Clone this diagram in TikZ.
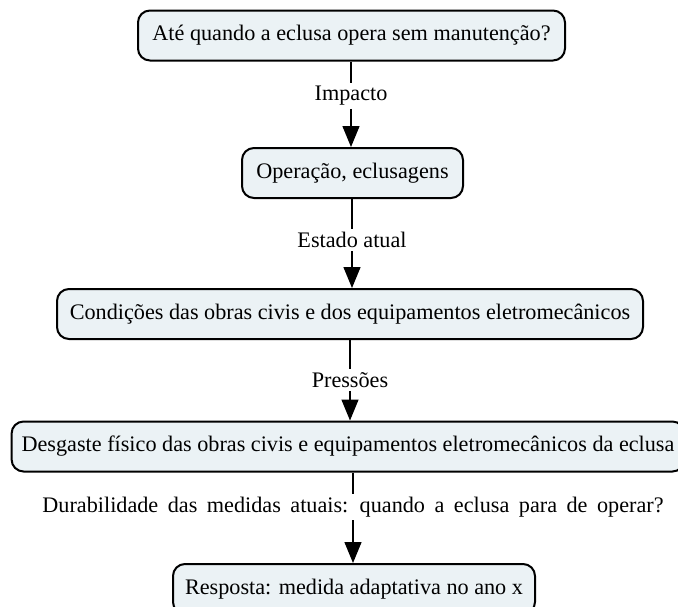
\documentclass[tikz,border=0pt]{standalone}
\usepackage{fontspec}
\setmainfont{Liberation Serif}
\usetikzlibrary{arrows.meta}
\definecolor{boxfill}{HTML}{EBF2F5}

\begin{document}
\begin{tikzpicture}[x=1pt,y=-1pt]

       \tikzstyle{arrow} = [line width=1.4pt,-{Triangle[width=17pt,length=21pt]}]
       \tikzset{box/.style = {rectangle, draw, line width=2pt, rounded corners=12pt, fill=boxfill, text centered, minimum height=50pt, inner xsep=10pt, font=\fontsize{22.2}{26}\selectfont}, }
       \tikzset{lbl/.style = {inner sep=3pt, font=\fontsize{22.2}{26}\selectfont}, }
       \tikzset{link/.style = {line width=1.4pt}, }
       \useasboundingbox (0,0) rectangle (678,606);
       \clip (0,0) rectangle (678,606);

       \node[box, minimum width=427pt] (Q) at (351.5,35.5) {Até quando a eclusa opera sem manutenção?};
       \node[box, minimum width=221pt] (Op) at (352.5,173) {Operação, eclusagens};
       \node[box, minimum width=586pt] (Cond) at (350,314) {Condições das obras civis e dos equipamentos eletromecânicos};
       \node[box, minimum width=672pt] (Desg) at (348,446.5) {Desgaste físico das obras civis e equipamentos eletromecânicos da eclusa};
       \node[box, minimum width=362pt] (Resp) at (354,589) {Resposta: medida adaptativa no ano x};

       \node[lbl] (Imp) at (351,96) {Impacto};
       \node[lbl] (Est) at (352,240) {Estado atual};
       \node[lbl] (Pre) at (350,380) {Pressões};
       \node[lbl] (Dur) at (353,507) {\spaceskip=9.5pt plus 1pt Durabilidade das medidas atuais: quando a eclusa para de operar?};

       \draw[link] (Imp |- Q.south) -- (Imp);
       \draw[arrow] (Imp) -- (Imp |- Op.north);
       \draw[link] (Est |- Op.south) -- (Est);
       \draw[arrow] (Est) -- (Est |- Cond.north);
       \draw[link] (Pre |- Cond.south) -- (Pre);
       \draw[arrow] (Pre) -- (Pre |- Desg.north);
       \draw[link] (Dur |- Desg.south) -- (Dur);
       \draw[arrow] (Dur) -- (Dur |- Resp.north);

\end{tikzpicture}
\end{document}
